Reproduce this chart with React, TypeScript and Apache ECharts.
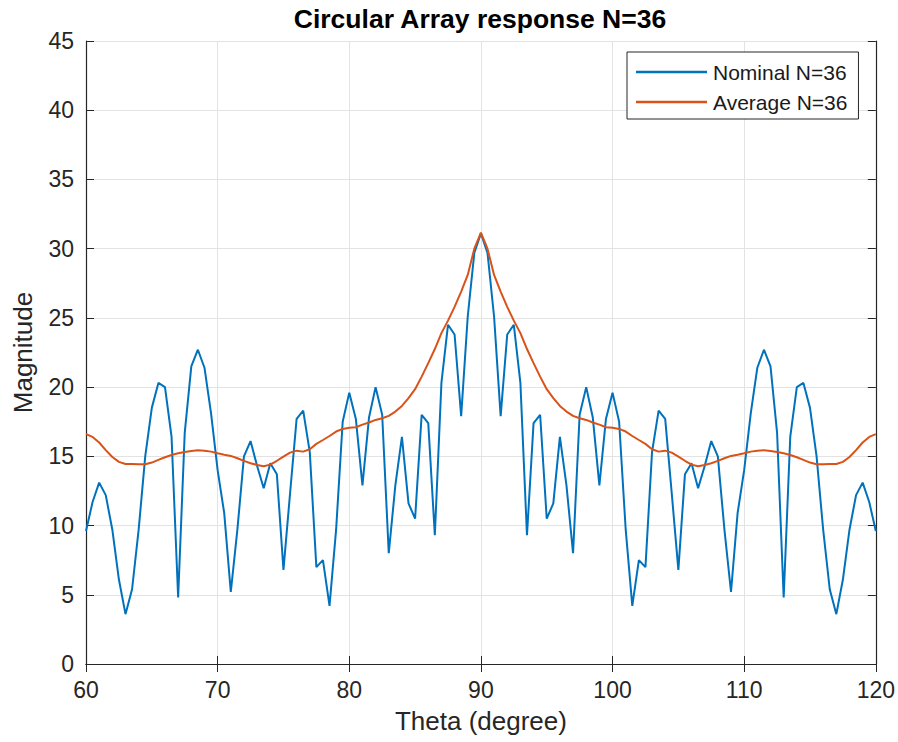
import React, { useEffect, useRef } from "react";
import * as echarts from "echarts";

const theta = [
  60, 60.5, 61, 61.5, 62, 62.5, 63, 63.5, 64, 64.5,
  65, 65.5, 66, 66.5, 67, 67.5, 68, 68.5, 69, 69.5,
  70, 70.5, 71, 71.5, 72, 72.5, 73, 73.5, 74, 74.5,
  75, 75.5, 76, 76.5, 77, 77.5, 78, 78.5, 79, 79.5,
  80, 80.5, 81, 81.5, 82, 82.5, 83, 83.5, 84, 84.5,
  85, 85.5, 86, 86.5, 87, 87.5, 88, 88.5, 89, 89.5,
  90, 90.5, 91, 91.5, 92, 92.5, 93, 93.5, 94, 94.5,
  95, 95.5, 96, 96.5, 97, 97.5, 98, 98.5, 99, 99.5,
  100, 100.5, 101, 101.5, 102, 102.5, 103, 103.5, 104, 104.5,
  105, 105.5, 106, 106.5, 107, 107.5, 108, 108.5, 109, 109.5,
  110, 110.5, 111, 111.5, 112, 112.5, 113, 113.5, 114, 114.5,
  115, 115.5, 116, 116.5, 117, 117.5, 118, 118.5, 119, 119.5,
  120,
];

const nominal = [
  9.6, 11.7, 13.1, 12.2, 9.7, 6.1, 3.6, 5.4, 9.7, 15.0,
  18.5, 20.3, 20.0, 16.4, 4.8, 16.7, 21.5, 22.7, 21.4, 18.1,
  14.0, 10.9, 5.2, 9.7, 15.0, 16.1, 14.3, 12.7, 14.5, 13.7,
  6.8, 12.3, 17.7, 18.3, 15.3, 7.0, 7.5, 4.2, 9.7, 17.5,
  19.6, 17.7, 12.9, 17.8, 20.0, 18.0, 8.0, 12.9, 16.4, 11.6,
  10.5, 18.0, 17.4, 9.3, 20.3, 24.5, 23.8, 17.9, 25.1, 29.7,
  31.1,
  29.7, 25.1, 17.9, 23.8, 24.5, 20.3, 9.3, 17.4, 18.0, 10.5,
  11.6, 16.4, 12.9, 8.0, 18.0, 20.0, 17.8, 12.9, 17.7, 19.6,
  17.5, 9.7, 4.2, 7.5, 7.0, 15.3, 18.3, 17.7, 12.3, 6.8,
  13.7, 14.5, 12.7, 14.3, 16.1, 15.0, 9.7, 5.2, 10.9, 14.0,
  18.1, 21.4, 22.7, 21.5, 16.7, 4.8, 16.4, 20.0, 20.3, 18.5,
  15.0, 9.7, 5.4, 3.6, 6.1, 9.7, 12.2, 13.1, 11.7, 9.6,
];

const average = [
  16.6, 16.4, 16.0, 15.45, 14.95, 14.6, 14.45, 14.45, 14.43, 14.43,
  14.55, 14.74, 14.93, 15.1, 15.22, 15.32, 15.39, 15.44, 15.41, 15.34,
  15.22, 15.12, 15.03, 14.86, 14.67, 14.5, 14.38, 14.28, 14.4, 14.68,
  14.98, 15.27, 15.41, 15.34, 15.51, 15.9, 16.18, 16.47, 16.79, 16.98,
  17.07, 17.1, 17.29, 17.44, 17.63, 17.75, 17.92, 18.23, 18.64, 19.2,
  19.85, 20.76, 21.73, 22.75, 23.9, 24.8, 25.8, 26.9, 28.1, 30.0,
  31.15,
  30.0, 28.1, 26.9, 25.8, 24.8, 23.9, 22.75, 21.73, 20.76, 19.85,
  19.2, 18.64, 18.23, 17.92, 17.75, 17.63, 17.44, 17.29, 17.1, 17.07,
  16.98, 16.79, 16.47, 16.18, 15.9, 15.51, 15.34, 15.41, 15.27, 14.98,
  14.68, 14.4, 14.28, 14.38, 14.5, 14.67, 14.86, 15.03, 15.12, 15.22,
  15.34, 15.41, 15.44, 15.39, 15.32, 15.22, 15.1, 14.93, 14.74, 14.55,
  14.43, 14.43, 14.45, 14.45, 14.6, 14.95, 15.45, 16.0, 16.4, 16.6,
];

const seriesNames = ["Nominal N=36", "Average N=36"];
const titleText = "Circular Array response N=36";
const xName = "Theta (degree)";
const yName = "Magnitude";

const AXIS = "#262626";
const FONT = "'Liberation Sans', Arial, Helvetica, sans-serif";

export default function App() {
  const ref = useRef<HTMLDivElement>(null);
  useEffect(() => {
    if (!ref.current) return;
    const chart = echarts.init(ref.current, null, { renderer: "svg" });
    const tick = { inside: true, length: 8, lineStyle: { color: AXIS, width: 1 } };
    chart.setOption({
      animation: false,
      backgroundColor: "#fff",
      textStyle: { fontFamily: FONT },
      title: {
        text: titleText,
        left: 475,
        textAlign: "center",
        top: 0,
        textStyle: { fontFamily: FONT, fontSize: 26.5, fontWeight: "bold", color: "#000" },
      },
      legend: {
        orient: "vertical",
        left: 627,
        top: 52,
        padding: [5, 11, 2, 9],
        itemGap: 0,
        itemWidth: 71,
        itemHeight: 2.5,
        icon: "rect",
        backgroundColor: "#fff",
        borderColor: AXIS,
        borderWidth: 1,
        borderRadius: 0,
        data: seriesNames,
        textStyle: { fontFamily: FONT, fontSize: 21, color: "#1a1a1a", lineHeight: 30, padding: [0, 0, 0, 1] },
      },
      grid: { left: 86, right: 21, top: 41, bottom: 78, containLabel: false },
      xAxis: [
        {
          type: "value",
          min: 60,
          max: 120,
          interval: 10,
          name: xName,
          nameLocation: "middle",
          nameGap: 44,
          nameTextStyle: { fontFamily: FONT, fontSize: 26, color: AXIS },
          axisLine: { show: true, lineStyle: { color: AXIS, width: 1.2 } },
          axisTick: tick,
          axisLabel: { fontFamily: FONT, fontSize: 23, color: AXIS, margin: 14 },
          splitLine: { show: true, lineStyle: { color: "#e3e3e3", width: 1 } },
        },
        {
          type: "value",
          position: "top",
          min: 60,
          max: 120,
          interval: 10,
          axisLine: { show: true, lineStyle: { color: AXIS, width: 1.2 } },
          axisTick: tick,
          axisLabel: { show: false },
          splitLine: { show: false },
        },
      ],
      yAxis: [
        {
          type: "value",
          min: 0,
          max: 45,
          interval: 5,
          name: yName,
          nameLocation: "middle",
          nameGap: 50,
          nameTextStyle: { fontFamily: FONT, fontSize: 26, color: AXIS },
          axisLine: { show: true, lineStyle: { color: AXIS, width: 1.2 } },
          axisTick: tick,
          axisLabel: { fontFamily: FONT, fontSize: 23, color: AXIS, margin: 12 },
          splitLine: { show: true, lineStyle: { color: "#e3e3e3", width: 1 } },
        },
        {
          type: "value",
          position: "right",
          min: 0,
          max: 45,
          interval: 5,
          axisLine: { show: true, lineStyle: { color: AXIS, width: 1.2 } },
          axisTick: tick,
          axisLabel: { show: false },
          splitLine: { show: false },
        },
      ],
      series: [
        {
          name: seriesNames[0],
          type: "line",
          data: theta.map((t, i) => [t, nominal[i]]),
          showSymbol: false,
          symbol: "none",
          color: "#0072BD",
          lineStyle: { color: "#0072BD", width: 2 },
          z: 2,
        },
        {
          name: seriesNames[1],
          type: "line",
          data: theta.map((t, i) => [t, average[i]]),
          showSymbol: false,
          symbol: "none",
          color: "#D95319",
          lineStyle: { color: "#D95319", width: 2 },
          z: 3,
        },
      ],
    });
    return () => chart.dispose();
  }, []);
  return (
    <div
      ref={ref}
      style={{ position: "absolute", left: 0, top: 0, width: 898, height: 742 }}
    />
  );
}
